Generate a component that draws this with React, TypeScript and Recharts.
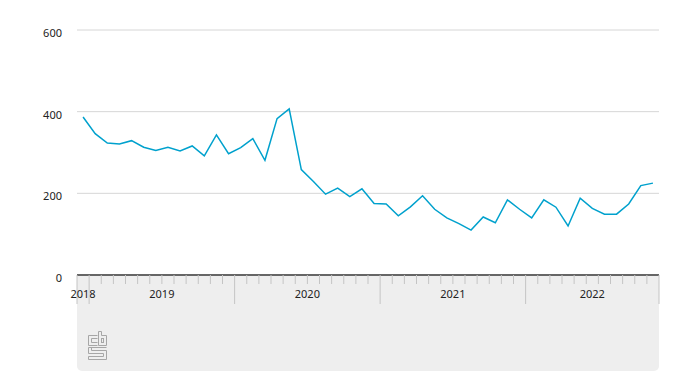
import { LineChart, Line, XAxis, YAxis, CartesianGrid } from "recharts";

const years = ["2018", "2019", "2020", "2021", "2022"];
const monthsPerYear = [1, 12, 12, 12, 11];

// monthly values, Dec 2018 .. Nov 2022
const values = [
  387, 346, 323, 321, 329, 313, 305, 313, 304, 316, 292, 343, 297,
  312, 334, 281, 383, 407, 258, 229, 198, 213, 192, 211,
  175, 174, 145, 167, 194, 161, 140, 126, 110, 142, 128, 184,
  161, 140, 184, 166, 120, 188, 163, 149, 149, 174, 219, 225,
];

const yTicks = [0, 200, 400, 600];

const FONT = "'Noto Sans', sans-serif";
const LINE = "#00a1cd";
const W = 693;
const H = 391;
const LEFT = 77;
const RIGHT = 34;
const TOP = 30;
const AXIS_H = 116;

const data = values.map((v, i) => ({ x: i + 0.5, value: v }));

// year boundaries and label centres in month units
const yearStarts: number[] = [];
const yearCenters: number[] = [];
let acc = 0;
monthsPerYear.forEach((m) => {
  yearStarts.push(acc);
  yearCenters.push(acc + m / 2);
  acc += m;
});
yearStarts.push(acc);
const total = acc;

const xTicks = Array.from(
  new Set([...Array.from({ length: total + 1 }, (_, i) => i), ...yearCenters])
).sort((a, b) => a - b);

function MonthTick(props: any) {
  const { x, y, payload } = props;
  const v = payload.value;
  const out: any[] = [];
  if (Number.isInteger(v)) {
    const long = yearStarts.includes(v);
    out.push(
      <line key="l" x1={x} x2={x} y1={y} y2={y + (long ? 29 : 9)} stroke="#c4c4c4" strokeWidth={1} />
    );
  }
  const yi = yearCenters.indexOf(v);
  if (yi >= 0) {
    out.push(
      <text key="t" x={x} y={y + 23} textAnchor="middle" fontSize={11} fontFamily={FONT} fill="#222">
        {years[yi]}
      </text>
    );
  }
  return <g>{out}</g>;
}

function CbsLogo() {
  const s = "#a6a6a6";
  return (
    <svg width={20} height={29} style={{ position: "absolute", left: 88, top: 331 }}>
      <g fill="none" stroke={s} strokeWidth={1}>
        <polyline points="9.5,4.5 0.5,4.5 0.5,14.5 9.5,14.5" />
        <polyline points="9.5,7.5 3.5,7.5 3.5,11.5 9.5,11.5" />
        <polyline points="10.5,0.5 10.5,14.5 18.5,14.5 18.5,4.5 13.5,4.5 13.5,0.5 10.5,0.5" />
        <rect x={13.5} y={7.5} width={2} height={4} />
        <polyline points="18.5,16.5 0.5,16.5 0.5,22.5 15.5,22.5 15.5,25.5 0.5,25.5 0.5,28.5 18.5,28.5 18.5,19.5 3.5,19.5 3.5,16.5" />
      </g>
    </svg>
  );
}

export default function App() {
  return (
    <div style={{ position: "absolute", left: 0, top: 0, width: W, height: H, background: "#fff" }}>
      <div
        style={{
          position: "absolute",
          left: LEFT,
          top: H - AXIS_H,
          width: W - LEFT - RIGHT,
          height: 96,
          background: "#eeeeee",
          borderBottomLeftRadius: 5,
          borderBottomRightRadius: 5,
        }}
      />
      <CbsLogo />
      <div style={{ position: "absolute", left: 0, top: 0 }}>
        <LineChart width={W} height={H} data={data} margin={{ top: TOP, right: RIGHT, left: 0, bottom: 0 }}>
          <CartesianGrid vertical={false} stroke="#d6d6d6" />
          <YAxis
            type="number"
            domain={[0, 600]}
            ticks={yTicks}
            width={LEFT}
            axisLine={false}
            tickLine={false}
            tickSize={0}
            tickMargin={15}
            tick={{ fontSize: 11, fontFamily: FONT, fill: "#222", dy: 3 }}
          />
          <XAxis
            dataKey="x"
            type="number"
            domain={[0, total]}
            ticks={xTicks}
            interval={0}
            height={AXIS_H}
            axisLine={{ stroke: "#666", strokeWidth: 2 }}
            tickLine={false}
            tickSize={0}
            tickMargin={0}
            tick={(p: any) => <MonthTick {...p} />}
          />
          <Line
            dataKey="value"
            type="linear"
            stroke={LINE}
            strokeWidth={1.5}
            dot={false}
            isAnimationActive={false}
          />
        </LineChart>
      </div>
    </div>
  );
}
